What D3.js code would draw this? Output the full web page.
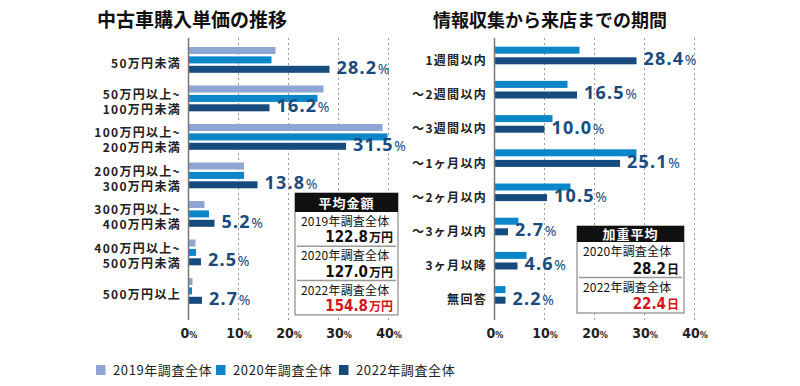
<!DOCTYPE html>
<html>
<head>
<meta charset="utf-8">
<script src="https://cdn.jsdelivr.net/npm/d3@7"></script>
<style>
  body { margin: 0; background: #fff; }
  svg { display: block; font-family: "Noto Sans CJK JP", "Noto Sans", sans-serif; }
</style>
</head>
<body>
<div id="chart"></div>
<script>
// left chart: unit price of used car purchases
var priceCats = [
    ['50万円未満'],
    ['50万円以上~', '100万円未満'],
    ['100万円以上~', '200万円未満'],
    ['200万円以上~', '300万円未満'],
    ['300万円以上~', '400万円未満'],
    ['400万円以上~', '500万円未満'],
    ['500万円以上']
];
var price2019 = [17.4, 27.0, 38.8, 11.1, 3.2, 1.4, 0.8];
var price2020 = [16.6, 25.8, 39.8, 11.1, 4.1, 1.5, 0.7];
var price2022 = [28.2, 16.2, 31.5, 13.8, 5.2, 2.5, 2.7];

// right chart: period from information gathering to store visit
var periodCats = ['1週間以内', '～2週間以内', '～3週間以内', '～1ヶ月以内', '～2ヶ月以内', '～3ヶ月以内', '3ヶ月以降', '無回答'];
var period2020 = [17.0, 14.6, 11.6, 28.4, 15.2, 4.8, 6.4, 2.2];
var period2022 = [28.4, 16.5, 10.0, 25.1, 10.5, 2.7, 4.6, 2.2];

var ticks = [0, 10, 20, 30, 40];
var seriesNames = ['2019年調査全体', '2020年調査全体', '2022年調査全体'];
var colors = {'2019年調査全体': '#8fa5d3', '2020年調査全体': '#0b87c9', '2022年調査全体': '#174b7d'};

var avgPrice = [['2019年調査全体', '122.8', '万円'], ['2020年調査全体', '127.0', '万円'], ['2022年調査全体', '154.8', '万円']];
var avgDays = [['2020年調査全体', '28.2', '日'], ['2022年調査全体', '22.4', '日']];

var W = 800, H = 386;
var navy = '#1a4a7e', red = '#d7131b';
var numFont = '"DejaVu Sans Condensed", "Liberation Sans Narrow", sans-serif';

var svg = d3.select('#chart').append('svg').attr('width', W).attr('height', H);

// titles
svg.append('text').attr('x', 97).attr('y', 27)
    .attr('font-size', 19).attr('font-weight', 'bold').attr('fill', '#111')
    .text('中古車購入単価の推移');
svg.append('text').attr('x', 433).attr('y', 27)
    .attr('font-size', 18).attr('font-weight', 'bold').attr('fill', '#111')
    .text('情報収集から来店までの期間');

function drawPanel(opt) {
    var x = d3.scaleLinear().domain([0, 40]).range(opt.xRange);
    var y = d3.scaleBand().domain(d3.range(opt.cats.length)).range(opt.yRange);
    var inner = d3.scaleBand().domain(opt.keys).range(opt.innerRange).paddingInner(opt.pad);

    var g = svg.append('g');

    // dotted grid
    g.selectAll('.grid').data(ticks.slice(1)).enter().append('line')
        .attr('x1', function(d) { return x(d); }).attr('x2', function(d) { return x(d); })
        .attr('y1', 38).attr('y2', 320)
        .attr('stroke', '#9a9a9a').attr('stroke-width', 1).attr('stroke-dasharray', '2,3');

    // bars
    var rows = g.selectAll('.row').data(opt.cats).enter().append('g')
        .attr('transform', function(d, i) { return 'translate(0,' + y(i) + ')'; });

    rows.each(function(c, i) {
        var r = d3.select(this);
        opt.keys.forEach(function(k) {
            var v = opt.values[k][i];
            r.append('rect')
                .attr('x', x(0)).attr('y', inner(k))
                .attr('width', x(v) - x(0)).attr('height', inner.bandwidth())
                .attr('fill', colors[k]);
        });
        // value label for the latest year
        var last = opt.keys[opt.keys.length - 1];
        var lv = opt.values[last][i];
        var t = r.append('text')
            .attr('x', x(lv) + 7).attr('y', inner(last) + inner.bandwidth() + 1)
            .attr('fill', navy).attr('font-weight', 'bold')
            .attr('font-family', '"Noto Sans", Roboto, sans-serif')
            .attr('font-size', 18).attr('letter-spacing', 1.2);
        t.append('tspan').text(lv.toFixed(1));
        t.append('tspan').attr('font-size', 14).attr('font-weight', 'normal').attr('dx', 0.5).text('%');

        // category label, one text per line
        var lines = Array.isArray(c) ? c : [c];
        var cy = y.bandwidth() / 2;
        lines.forEach(function(s, j) {
            r.append('text').attr('text-anchor', 'end')
                .attr('x', opt.labelX)
                .attr('y', cy + 4.5 + (j - (lines.length - 1) / 2) * 15)
                .attr('font-size', 12).attr('font-weight', 'bold').attr('fill', '#222')
                .attr('letter-spacing', 1.3)
                .text(s);
        });
    });

    // axis at bottom
    var axis = g.append('g').attr('transform', 'translate(0,333)')
        .call(d3.axisBottom(x).tickValues(ticks).tickSize(0).tickFormat(function(d) { return d; }));
    axis.select('.domain').remove();
    axis.selectAll('text')
        .attr('font-family', numFont).attr('font-weight', 'bold')
        .attr('font-size', 14).attr('fill', '#222').attr('dy', '0.35em').attr('y', 0)
        .each(function() {
            d3.select(this).append('tspan').attr('font-size', 9).text('%');
        });

    // zero line
    g.append('line').attr('x1', x(0)).attr('x2', x(0)).attr('y1', 38).attr('y2', 320)
        .attr('stroke', '#777').attr('stroke-width', 1.5);

    return g;
}

drawPanel({
    cats: priceCats,
    keys: seriesNames,
    values: {'2019年調査全体': price2019, '2020年調査全体': price2020, '2022年調査全体': price2022},
    xRange: [188.5, 388.5],
    yRange: [44, 44 + 7 * 38.5],
    innerRange: [3, 28.8],
    pad: 0.255,
    labelX: 181
});

drawPanel({
    cats: periodCats,
    keys: seriesNames.slice(1),
    values: {'2020年調査全体': period2020, '2022年調査全体': period2022},
    xRange: [494.5, 694.5],
    yRange: [43.5, 43.5 + 8 * 34.2],
    innerRange: [3.2, 20.8],
    pad: 0.34,
    labelX: 487
});

// summary boxes
function drawBox(bx, by, bw, headH, rowH, title, rows) {
    var g = svg.append('g').attr('transform', 'translate(' + bx + ',' + by + ')');
    var bh = headH + rowH * rows.length;
    g.append('rect').attr('width', bw).attr('height', bh)
        .attr('fill', '#fff').attr('stroke', '#8a8a8a').attr('stroke-width', 1.2);
    g.append('rect').attr('width', bw).attr('height', headH).attr('fill', '#111');
    g.append('text').attr('x', bw / 2).attr('y', headH / 2 + 5)
        .attr('text-anchor', 'middle').attr('fill', '#fff')
        .attr('font-size', 13).attr('font-weight', 'bold').attr('letter-spacing', 1)
        .text(title);
    rows.forEach(function(r, i) {
        var ry = headH + i * rowH;
        if (i > 0) {
            g.append('line').attr('x1', 2).attr('x2', bw - 2).attr('y1', ry).attr('y2', ry)
                .attr('stroke', '#999').attr('stroke-width', 1.5);
        }
        g.append('text').attr('x', 6).attr('y', ry + 14)
            .attr('font-size', 12).attr('fill', '#111').attr('letter-spacing', 0.2)
            .text(r[0]);
        var col = i === rows.length - 1 ? red : '#111';
        var v = g.append('text').attr('x', bw - 5).attr('y', ry + rowH - 4)
            .attr('text-anchor', 'end').attr('fill', col).attr('font-weight', 'bold');
        v.append('tspan').attr('font-family', numFont).attr('font-size', 15).text(r[1]);
        v.append('tspan').attr('font-size', 12).attr('dx', 1).text(r[2]);
    });
}

drawBox(295, 193, 103, 19, 34.3, '平均金額', avgPrice);
drawBox(577, 226, 107, 16, 35.5, '加重平均', avgDays);

// legend
var leg = svg.append('g').attr('transform', 'translate(96,365)');
var legX = [0, 120, 243];
seriesNames.forEach(function(s, i) {
    var lg = leg.append('g').attr('transform', 'translate(' + legX[i] + ',0)');
    lg.append('rect').attr('width', 9.5).attr('height', 10).attr('fill', colors[s]);
    lg.append('text').attr('x', 17).attr('y', 10)
        .attr('font-size', 13).attr('fill', '#222').attr('letter-spacing', 0.6)
        .text(s);
});
</script>
</body>
</html>
